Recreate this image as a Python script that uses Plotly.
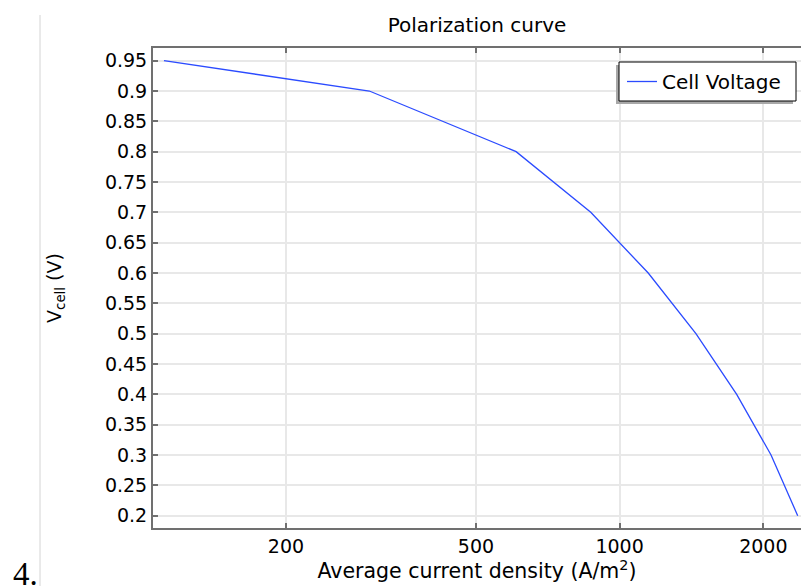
import plotly.graph_objects as go

# Data
current_density = [111, 299, 607, 870, 1148, 1445, 1759, 2076, 2361]
cell_voltage = [0.95, 0.90, 0.80, 0.70, 0.60, 0.50, 0.40, 0.30, 0.20]

x_tick_vals = [200, 500, 1000, 2000]
x_tick_text = ["200", "500", "1000", "2000"]
y_tick_vals = [0.2, 0.25, 0.3, 0.35, 0.4, 0.45, 0.5, 0.55, 0.6, 0.65, 0.7, 0.75, 0.8, 0.85, 0.9, 0.95]
y_tick_text = ["0.2", "0.25", "0.3", "0.35", "0.4", "0.45", "0.5", "0.55", "0.6", "0.65",
               "0.7", "0.75", "0.8", "0.85", "0.9", "0.95"]

W, H = 801, 586
L, R, T, B = 153, 801, 48, 528  # plot area in pixels


def px_x(p):
    return (p - L) / (R - L)


def px_y(p):
    return (B - p) / (B - T)


FONT = "DejaVu Sans"
AXIS_COLOR = "#707070"
GRID_COLOR = "#e8e8e8"

fig = go.Figure()
fig.add_trace(go.Scatter(
    x=current_density, y=cell_voltage, mode="lines", name="Cell Voltage",
    line=dict(color="#2b4bff", width=1.3),
))

fig.update_layout(
    width=W, height=H,
    margin=dict(l=L, r=W - R, t=T, b=H - B),
    paper_bgcolor="white", plot_bgcolor="white",
    font=dict(family=FONT, size=19, color="black"),
    title=dict(text="Polarization curve", x=477 / W, xanchor="center",
               xref="container", yref="container", y=1 - 25 / H, yanchor="middle",
               font=dict(family=FONT, size=20, color="black")),
    showlegend=True,
    legend=dict(x=px_x(622), y=px_y(62), xanchor="left", yanchor="top",
                bgcolor="rgba(0,0,0,0)", borderwidth=0,
                font=dict(family=FONT, size=20, color="black")),
    xaxis=dict(
        type="log", range=[2.0224, 3.3800],
        tickmode="array", tickvals=x_tick_vals, ticktext=x_tick_text,
        ticks="inside", ticklen=5, tickwidth=2, tickcolor=AXIS_COLOR,
        showline=True, linecolor=AXIS_COLOR, linewidth=2, mirror="ticks",
        showgrid=True, gridcolor=GRID_COLOR, gridwidth=1.5,
        zeroline=False,
        tickfont=dict(family=FONT, size=19),
        title=dict(text="Average current density (A/m<sup>2</sup>)",
                   font=dict(family=FONT, size=20.5), standoff=5),
        automargin=False,
    ),
    yaxis=dict(
        range=[0.1797, 0.9709],
        tickmode="array", tickvals=y_tick_vals, ticktext=y_tick_text,
        ticks="inside", ticklen=5, tickwidth=2, tickcolor=AXIS_COLOR,
        showline=True, linecolor=AXIS_COLOR, linewidth=2, mirror=False,
        showgrid=True, gridcolor=GRID_COLOR, gridwidth=1.5,
        zeroline=False,
        tickfont=dict(family=FONT, size=19),
        title=dict(text="V<sub>cell</sub> (V)", font=dict(family=FONT, size=19), standoff=38),
        automargin=False,
    ),
    shapes=[
        # legend shadow
        dict(type="rect", xref="paper", yref="paper",
             x0=px_x(616), x1=px_x(793), y0=px_y(104), y1=px_y(65),
             fillcolor="#a8a8a8", line=dict(width=0), layer="above"),
        # legend box
        dict(type="rect", xref="paper", yref="paper",
             x0=px_x(619), x1=px_x(796), y0=px_y(101), y1=px_y(62),
             fillcolor="white", line=dict(color="black", width=1), layer="above"),
        # page border line on the left
        dict(type="line", xref="paper", yref="paper",
             x0=px_x(40), x1=px_x(40), y0=px_y(586), y1=px_y(15),
             line=dict(color="#d4d4d4", width=1)),
    ],
    annotations=[
        dict(text="4.", xref="paper", yref="paper", x=px_x(11), y=px_y(574),
             xanchor="left", yanchor="middle", showarrow=False,
             font=dict(family="Liberation Serif", size=33, color="black")),
    ],
)

fig.write_html("out.html", config={"displayModeBar": False},
               post_script="document.body.style.margin='0';document.body.style.overflow='hidden';")
